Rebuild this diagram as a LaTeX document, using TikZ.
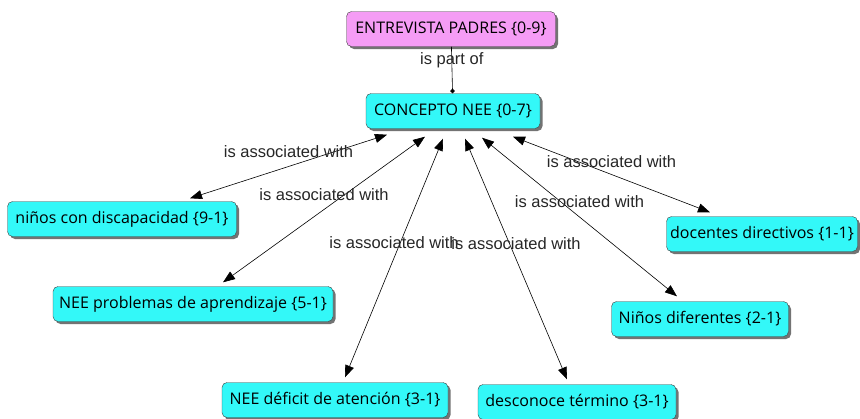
\documentclass[tikz,border=0pt]{standalone}
\usepackage{fontspec}
\setmainfont{Liberation Sans}
\newfontfamily\conceptfont{Open Sans}
\usetikzlibrary{positioning,calc,shadows,arrows.meta}
\definecolor{cian}{HTML}{33F8F8}
\definecolor{rosa}{HTML}{F59CF5}
\tikzset{
  concepto/.style={draw=black!75, fill=cian, rounded corners=5pt, minimum height=35pt,
    inner xsep=3pt, font=\conceptfont\fontsize{16}{18}\selectfont,
    drop shadow={shadow xshift=2.5pt, shadow yshift=-2.5pt, fill=black!55, opacity=1}},
  enlace/.style={font=\fontsize{16.5}{18}\selectfont, text=black!85},
  flecha/.style={{Triangle[length=12pt,width=9pt]}-{Triangle[length=12pt,width=9pt]}, semithick}
}

\begin{document}
\begin{tikzpicture}[x=1pt,y=-1pt]
    \useasboundingbox (0,0) rectangle (860,418);

    % Concepts
    \node[concepto, fill=rosa, minimum width=209pt] (padres) at (451,29) {ENTREVISTA PADRES \{0-9\}};
    \node[concepto, minimum width=174pt] (nee) at (453,111) {CONCEPTO NEE \{0-7\}};
    \node[concepto, minimum width=229pt] (discap) at (122,219) {niños con discapacidad \{9-1\}};
    \node[concepto, minimum width=280pt] (aprend) at (193,304) {NEE problemas de aprendizaje \{5-1\}};
    \node[concepto, minimum width=226pt] (deficit) at (335,400) {NEE déficit de atención \{3-1\}};
    \node[concepto, minimum width=198pt] (termino) at (577,402) {desconoce término \{3-1\}};
    \node[concepto, minimum width=191pt] (docentes) at (762,234) {docentes directivos \{1-1\}};
    \node[concepto, minimum width=177pt] (difer) at (700,319) {Niños diferentes \{2-1\}};

    % is part of
    \draw[semithick, -{Circle[length=4.5pt]}] (padres) -- (nee)
        node[enlace, pos=0.3] {is part of};

    % is associated with
    \draw[flecha] ([xshift=-66pt,yshift=-6pt]nee.south) -- ([xshift=68pt,yshift=3pt]discap.north)
        node[enlace, midway, yshift=15pt] {is associated with};
    \draw[flecha] ([xshift=-28pt,yshift=-8pt]nee.south) -- ([xshift=30pt,yshift=4pt]aprend.north)
        node[enlace, midway, yshift=15pt] {is associated with};
    \draw[flecha] ([xshift=-10pt,yshift=-10pt]nee.south) -- ([xshift=10pt,yshift=5pt]deficit.north)
        node[enlace, midway, yshift=15pt] {is associated with};
    \draw[flecha] ([xshift=12pt,yshift=-10pt]nee.south) -- ([xshift=-10pt,yshift=5pt]termino.north)
        node[enlace, midway, yshift=15pt] {is associated with};
    \draw[flecha] ([xshift=29pt,yshift=-9pt]nee.south) -- ([xshift=-23pt,yshift=5pt]difer.north)
        node[enlace, midway, yshift=15pt] {is associated with};
    \draw[flecha] ([xshift=60pt,yshift=-8pt]nee.south) -- ([xshift=-52pt,yshift=4pt]docentes.north)
        node[enlace, midway, yshift=13pt] {is associated with};
\end{tikzpicture}
\end{document}
